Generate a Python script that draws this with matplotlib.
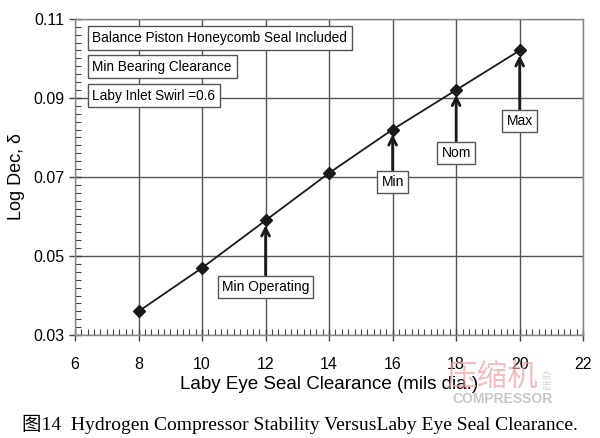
import matplotlib.pyplot as plt
from matplotlib.ticker import MultipleLocator

# Données
clearance = [8, 10, 12, 14, 16, 18, 20]
log_dec = [0.036, 0.047, 0.059, 0.071, 0.082, 0.092, 0.102]

# Annotations : (x, y de la boîte, texte)
labels_x = [12, 16, 18, 20]
labels_y = [0.0422, 0.0688, 0.0761, 0.0842]
labels_txt = ['Min Operating', 'Min', 'Nom', 'Max']

notes = ['Balance Piston Honeycomb Seal Included',
         'Min Bearing Clearance',
         'Laby Inlet Swirl =0.6']

y_ticks = [0.03, 0.05, 0.07, 0.09, 0.11]

plt.rcParams['font.family'] = ['Liberation Sans', 'DejaVu Sans']

fig = plt.figure(figsize=(6, 4.38), dpi=100)
ax = fig.add_axes([0.125, 0.235, 0.847, 0.722])

ax.plot(clearance, log_dec, color='#1a1a1a', lw=1.3, marker='D', ms=6,
        zorder=4)

ax.set_xlim(6, 22)
ax.set_ylim(0.03, 0.11)
ax.xaxis.set_major_locator(MultipleLocator(2))
ax.xaxis.set_minor_locator(MultipleLocator(0.2))
ax.set_yticks(y_ticks)
ax.set_yticklabels([f'{v:.2f}' for v in y_ticks])
ax.yaxis.set_minor_locator(MultipleLocator(0.002))
ax.tick_params(which='major', direction='inout', length=8, width=1,
               labelsize=11.5, color='#444444')
ax.tick_params(which='minor', direction='in', length=4, width=0.8,
               color='#444444')
ax.tick_params(axis='x', pad=12)
ax.grid(True, which='major', color='#555555', lw=1)
for s in ax.spines.values():
    s.set_color('#888888')
    s.set_linewidth(1)

ax.set_xlabel('Laby Eye Seal Clearance (mils dia.)', fontsize=13.5, labelpad=3)
ax.set_ylabel('Log Dec, δ', fontsize=13, labelpad=6)

for x, yb, t in zip(labels_x, labels_y, labels_txt):
    yp = log_dec[clearance.index(x)]
    ax.annotate(t, xy=(x, yp - 0.0012), xytext=(x, yb), ha='center',
                va='center', fontsize=10,
                bbox=dict(boxstyle='square,pad=0.3', fc='white',
                          ec='#555555', lw=1),
                arrowprops=dict(arrowstyle='->', color='#1a1a1a', lw=2,
                                shrinkA=0, shrinkB=0, mutation_scale=14),
                zorder=5)

for i, t in enumerate(notes):
    ax.text(6.55, 0.1052 - i * 0.0073, t, fontsize=9.8, va='center',
            ha='left', bbox=dict(boxstyle='square,pad=0.35', fc='white',
                                 ec='#555555', lw=1), zorder=5)

# filigrane
fig.text(0.82, 0.104, '压缩机', fontsize=22, color='#f0a0a0',
         family=['Noto Sans CJK SC'], ha='center', va='bottom', alpha=0.7)
fig.text(0.91, 0.108, '杂\n志', fontsize=7, color='#c8c8c8',
         family=['Noto Sans CJK SC'], ha='center', va='bottom',
         linespacing=1.0, alpha=0.8)
fig.text(0.838, 0.104, 'COMPRESSOR', fontsize=10, color='#b0b0b0',
         fontweight='bold', ha='center', va='top', alpha=0.7)

fig.text(0.5, 0.032, '图14  Hydrogen Compressor Stability VersusLaby Eye Seal Clearance.',
         ha='center', va='center', fontsize=14,
         family=['Liberation Serif', 'Noto Sans CJK SC'])

fig.savefig('out.png', dpi=100)
